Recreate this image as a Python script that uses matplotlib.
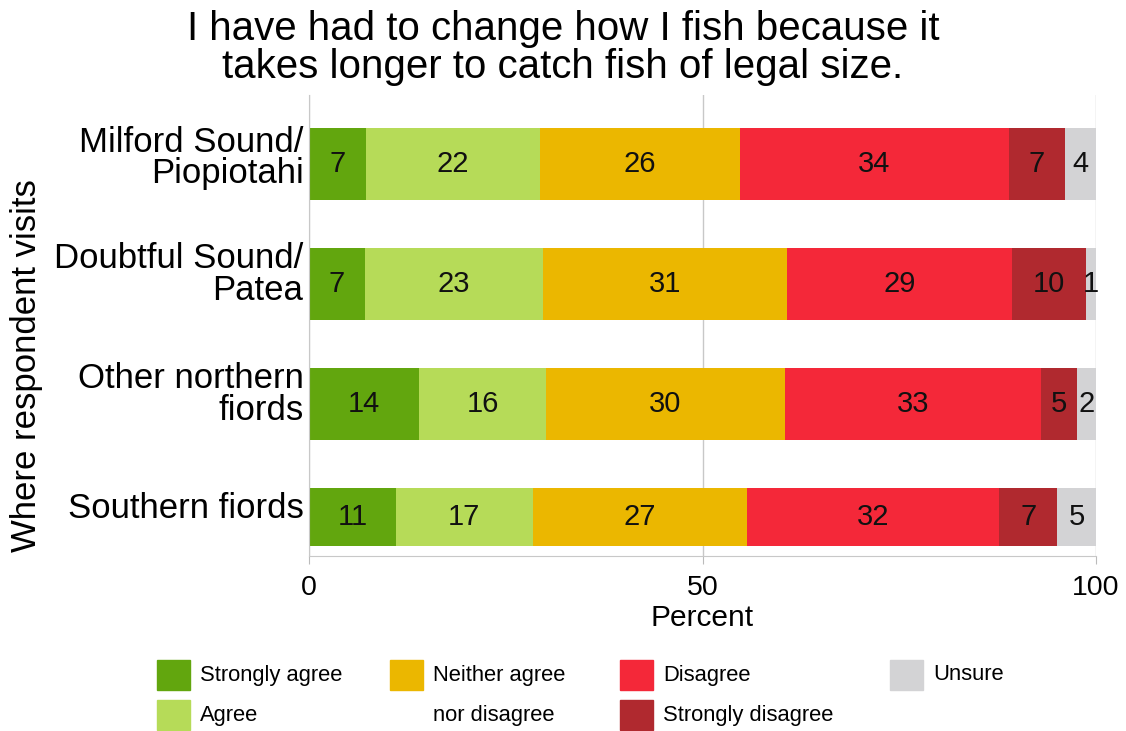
import matplotlib
matplotlib.use("Agg")
from matplotlib import pyplot as plt
from matplotlib.patches import Rectangle

plt.rcParams["font.family"] = ["Liberation Sans", "DejaVu Sans"]

places = ["Milford Sound/\nPiopiotahi", "Doubtful Sound/\nPatea",
          "Other northern\nfiords", "Southern fiords"]
responses = ["Strongly agree", "Agree", "Neither agree\nnor disagree",
             "Disagree", "Strongly disagree", "Unsure"]
colors = ["#62a60e", "#b6db58", "#ebb700", "#f42839", "#b0292f", "#d3d3d5"]

# percent per response, one list per place
milford = [7.2, 22.1, 25.5, 34.1, 7.2, 3.9]
doubtful = [7.1, 22.6, 31.0, 28.6, 9.4, 1.3]
northern = [14.0, 16.1, 30.4, 32.5, 4.6, 2.4]
southern = [11.1, 17.3, 27.2, 32.1, 7.4, 5.0]

# labels as printed on the chart
milford_lab = [7, 22, 26, 34, 7, 4]
doubtful_lab = [7, 23, 31, 29, 10, 1]
northern_lab = [14, 16, 30, 33, 5, 2]
southern_lab = [11, 17, 27, 32, 7, 5]

rows = [milford, doubtful, northern, southern]
row_labels = [milford_lab, doubtful_lab, northern_lab, southern_lab]

fig = plt.figure(figsize=(11.26, 7.31), dpi=100)
W, H = 1126, 731
ax = fig.add_axes([309 / W, 1 - 556 / H, (1096 - 309) / W, (556 - 95) / H])

heights = [0.6, 0.6, 0.6, 0.48]
for i, (vals, labs) in enumerate(zip(rows, row_labels)):
    h = heights[i]
    yc = i - 0.3 + h / 2
    left = 0
    for j, (v, lab) in enumerate(zip(vals, labs)):
        ax.barh(yc, v, left=left, height=h, color=colors[j], linewidth=0, zorder=2)
        ax.text(left + v / 2, yc, str(lab), ha="center", va="center",
                fontsize=21, color="#111111", zorder=3)
        left += v

ax.set_xlim(0, 100)
ax.set_ylim(3.267, -0.575)
# category labels sit a little above the bar centres
ax.set_yticks([-0.07, 0.9, 1.9, 2.84])
ax.set_yticklabels(places, fontsize=25, linespacing=0.93)
ax.set_xticks([0, 50, 100])
ax.set_xticklabels(["0", "50", "100"], fontsize=20.5)
ax.tick_params(axis="y", length=0, pad=4)
ax.tick_params(axis="x", length=6, color="#bbbbbb", pad=8)
ax.xaxis.grid(True, color="#c8c8c8", linewidth=1, zorder=0)
ax.set_axisbelow(True)
for s in ["top", "right"]:
    ax.spines[s].set_visible(False)
for s in ["left", "bottom"]:
    ax.spines[s].set_color("#c8c8c8")
ax.set_xlabel("Percent", fontsize=21.5, labelpad=2)

fig.text(27 / W, 1 - 366 / H, "Where respondent visits", rotation=90,
         ha="center", va="center", fontsize=25)

fig.text(0.5, 1 - 48 / H, "I have had to change how I fish because it\n"
         "takes longer to catch fish of legal size.",
         ha="center", va="center", fontsize=29, linespacing=1.0)

# legend drawn by hand: box and text rows in pixel positions
leg = [(0, 157, 675), (1, 157, 715), (2, 390, 675),
       (3, 620, 675), (4, 620, 715), (5, 890, 675)]
for k, x, y in leg:
    fig.add_artist(Rectangle((x / W, 1 - (y + 15) / H), 33 / W, 30 / H,
                             transform=fig.transFigure, color=colors[k]))
    for n, line in enumerate(responses[k].split("\n")):
        fig.text((x + 43) / W, 1 - (y + 40 * n) / H, line, ha="left",
                 va="center", fontsize=15.8)

fig.savefig("out.png", dpi=100)
